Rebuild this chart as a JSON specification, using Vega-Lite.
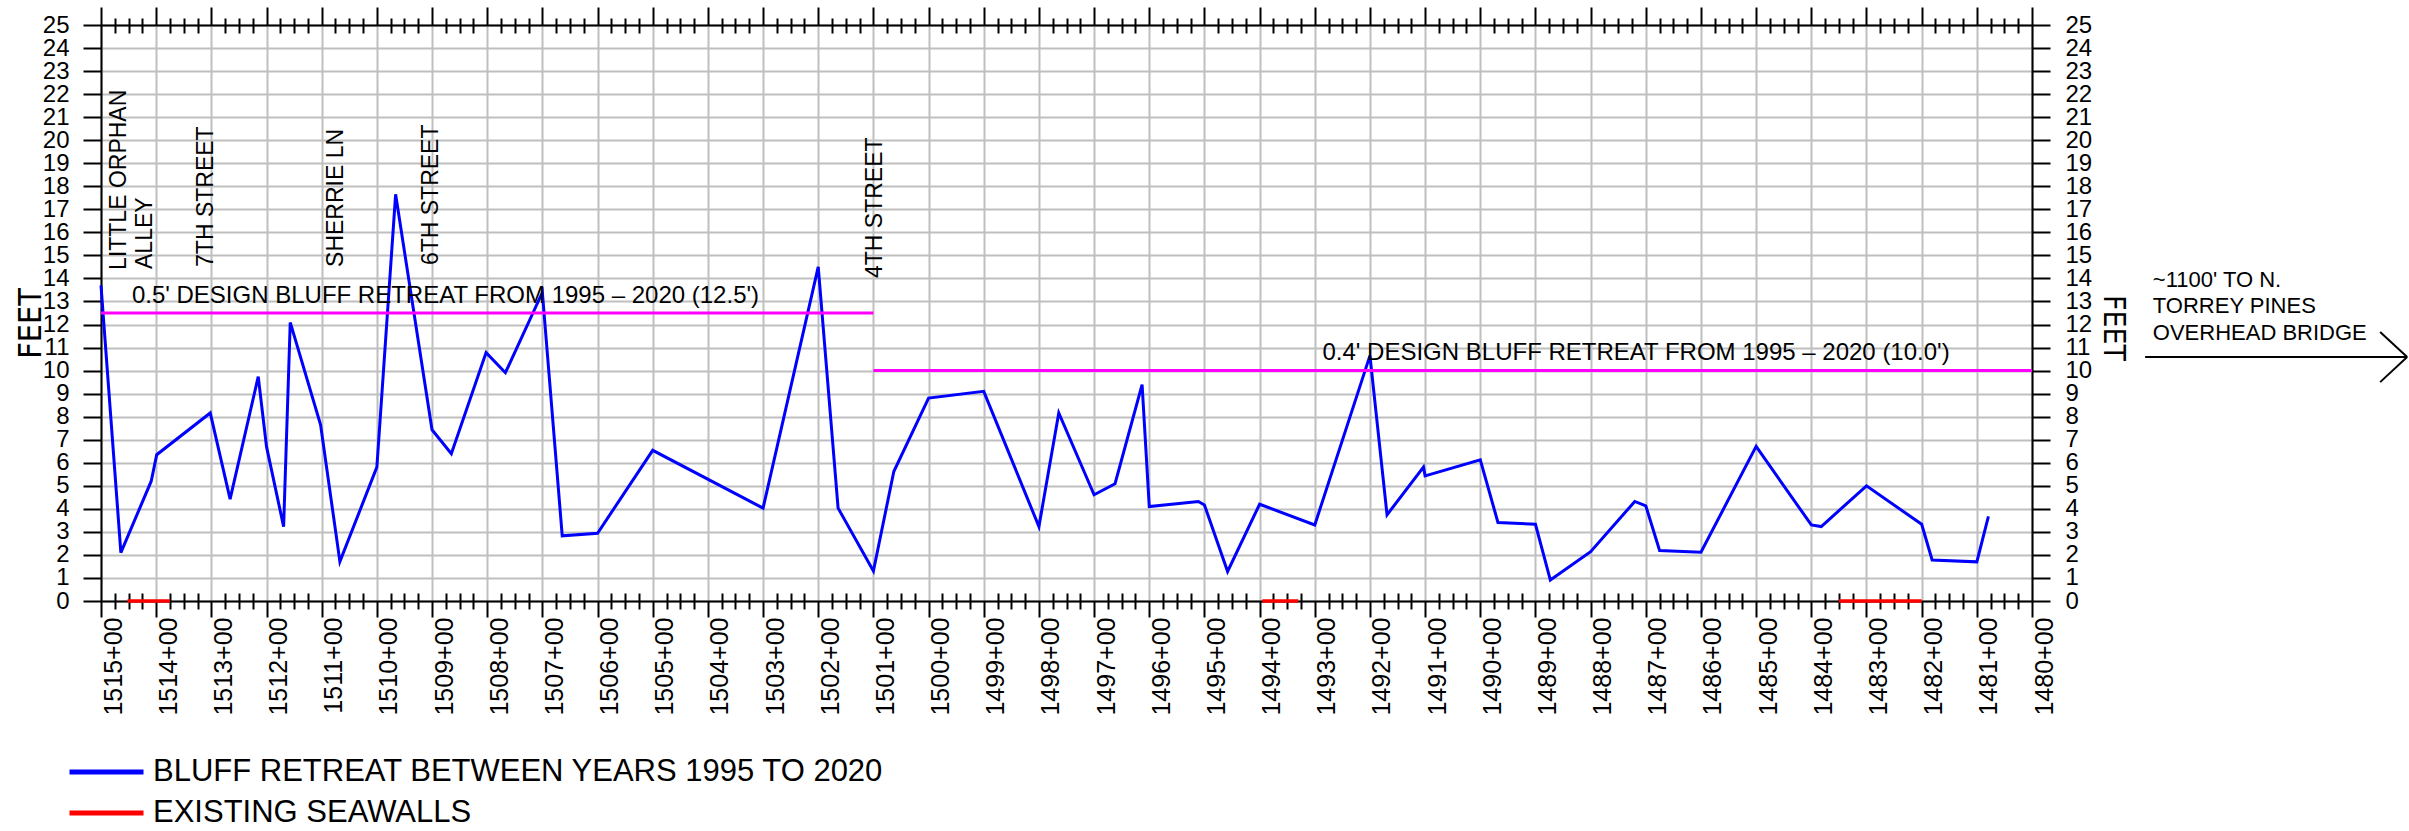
{
  "$schema": "https://vega.github.io/schema/vega-lite/v6.json",
  "width": 1931,
  "height": 576,
  "autosize": {"type": "none"},
  "padding": {"left": 101, "top": 25, "right": 377, "bottom": 230},
  "background": "white",
  "datasets": {
    "retreat": [
      {"station": 1515.0, "feet": 13.7},
      {"station": 1514.64, "feet": 2.1},
      {"station": 1514.09, "feet": 5.2},
      {"station": 1513.99, "feet": 6.35},
      {"station": 1513.02, "feet": 8.16},
      {"station": 1512.66, "feet": 4.42},
      {"station": 1512.15, "feet": 9.74},
      {"station": 1512.0, "feet": 6.7},
      {"station": 1511.69, "feet": 3.23},
      {"station": 1511.57, "feet": 12.09},
      {"station": 1511.02, "feet": 7.65},
      {"station": 1510.67, "feet": 1.71},
      {"station": 1510.0, "feet": 5.81},
      {"station": 1509.66, "feet": 17.65},
      {"station": 1509.0, "feet": 7.43},
      {"station": 1508.65, "feet": 6.39},
      {"station": 1508.02, "feet": 10.78},
      {"station": 1507.67, "feet": 9.91},
      {"station": 1507.0, "feet": 13.39},
      {"station": 1506.64, "feet": 2.83},
      {"station": 1506.0, "feet": 2.94},
      {"station": 1505.0, "feet": 6.54},
      {"station": 1503.0, "feet": 4.03},
      {"station": 1502.0, "feet": 14.5},
      {"station": 1501.64, "feet": 4.03},
      {"station": 1501.0, "feet": 1.3},
      {"station": 1500.63, "feet": 5.62},
      {"station": 1500.0, "feet": 8.81},
      {"station": 1499.0, "feet": 9.1},
      {"station": 1498.0, "feet": 3.23},
      {"station": 1497.64, "feet": 8.16},
      {"station": 1497.0, "feet": 4.61},
      {"station": 1496.62, "feet": 5.09},
      {"station": 1496.13, "feet": 9.39},
      {"station": 1496.0, "feet": 4.1},
      {"station": 1495.11, "feet": 4.32},
      {"station": 1495.0, "feet": 4.17},
      {"station": 1494.58, "feet": 1.28},
      {"station": 1494.0, "feet": 4.2},
      {"station": 1493.0, "feet": 3.3},
      {"station": 1492.0, "feet": 10.65},
      {"station": 1491.69, "feet": 3.74},
      {"station": 1491.03, "feet": 5.81},
      {"station": 1491.0, "feet": 5.43},
      {"station": 1490.0, "feet": 6.13},
      {"station": 1489.68, "feet": 3.41},
      {"station": 1489.0, "feet": 3.33},
      {"station": 1488.73, "feet": 0.91},
      {"station": 1488.0, "feet": 2.14},
      {"station": 1487.2, "feet": 4.32},
      {"station": 1487.0, "feet": 4.13},
      {"station": 1486.75, "feet": 2.19},
      {"station": 1486.0, "feet": 2.12},
      {"station": 1485.0, "feet": 6.71},
      {"station": 1484.0, "feet": 3.3},
      {"station": 1483.82, "feet": 3.23},
      {"station": 1483.0, "feet": 5.0},
      {"station": 1482.0, "feet": 3.33},
      {"station": 1481.81, "feet": 1.78},
      {"station": 1481.0, "feet": 1.7},
      {"station": 1480.79, "feet": 3.67}
    ],
    "design": [
      {"start": 1515, "end": 1501, "feet": 12.5},
      {"start": 1501, "end": 1480, "feet": 10.0}
    ],
    "seawalls": [
      {"start": 1514.52, "end": 1513.75},
      {"start": 1493.95, "end": 1493.3},
      {"start": 1483.5, "end": 1482.0}
    ],
    "streets": [
      {"station": 1514.55, "feet": 14.37, "label": "LITTLE ORPHAN"},
      {"station": 1514.08, "feet": 14.41, "label": "ALLEY"},
      {"station": 1512.97, "feet": 14.5, "label": "7TH STREET"},
      {"station": 1510.61, "feet": 14.5, "label": "SHERRIE LN"},
      {"station": 1508.9, "feet": 14.58, "label": "6TH STREET"},
      {"station": 1500.84, "feet": 14.02, "label": "4TH STREET"}
    ],
    "designText": [
      {"station": 1514.44, "feet": 12.93, "label": "0.5' DESIGN BLUFF RETREAT FROM 1995 – 2020 (12.5')"},
      {"station": 1492.86, "feet": 10.46, "label": "0.4' DESIGN BLUFF RETREAT FROM 1995 – 2020 (10.0')"}
    ],
    "note": [
      {"station": 1477.81, "feet": 13.63, "label": "~1100' TO N."},
      {"station": 1477.81, "feet": 12.5, "label": "TORREY PINES"},
      {"station": 1477.81, "feet": 11.33, "label": "OVERHEAD BRIDGE"}
    ],
    "arrow": [
      {"x1": 1477.95, "y1": 10.59, "x2": 1473.2, "y2": 10.59},
      {"x1": 1473.69, "y1": 11.68, "x2": 1473.2, "y2": 10.59},
      {"x1": 1473.69, "y1": 9.5, "x2": 1473.2, "y2": 10.59}
    ]
  },
  "layer": [
    {
      "data": {"name": "retreat"},
      "mark": {"type": "line", "strokeWidth": 3, "clip": false},
      "encoding": {
        "x": {
          "field": "station", "type": "quantitative",
          "scale": {"domain": [1480, 1515], "reverse": true, "nice": false, "zero": false},
          "axis": {
            "orient": "bottom",
            "values": [1480,1481,1482,1483,1484,1485,1486,1487,1488,1489,1490,1491,1492,1493,1494,1495,1496,1497,1498,1499,1500,1501,1502,1503,1504,1505,1506,1507,1508,1509,1510,1511,1512,1513,1514,1515],
            "grid": true, "gridColor": "#bfbfbf", "gridWidth": 2,
            "tickSize": 16, "domain": true,
            "labelAngle": 270, "labelAlign": "right", "labelBaseline": "top",
            "labelFontSize": 25, "labelPadding": 0, "labelFlush": false, "labelOverlap": false,
            "labelExpr": "datum.value + '+00'",
            "title": null
          }
        },
        "y": {
          "field": "feet", "type": "quantitative",
          "scale": {"domain": [0, 25], "nice": false, "zero": false},
          "axis": {
            "orient": "left",
            "values": [0,1,2,3,4,5,6,7,8,9,10,11,12,13,14,15,16,17,18,19,20,21,22,23,24,25],
            "grid": true, "gridColor": "#bfbfbf", "gridWidth": 2,
            "tickSize": 18, "domain": true,
            "labelFontSize": 24, "labelPadding": 14, "labelFlush": false, "labelOverlap": false,
            "title": "FEET", "titleFont": "'DejaVu Sans Condensed', 'Liberation Sans'", "titleFontSize": 32,
            "titleAngle": 270, "titleX": -71, "titleY": 298, "titleAlign": "center", "titleBaseline": "middle"
          }
        },
        "color": {
          "datum": "BLUFF RETREAT BETWEEN YEARS 1995 TO 2020", "type": "nominal",
          "scale": {"domain": ["BLUFF RETREAT BETWEEN YEARS 1995 TO 2020", "EXISTING SEAWALLS"], "range": ["#0000ff", "#ff0000"]},
          "legend": {
            "orient": "none", "legendX": -34, "legendY": 732, "title": null,
            "symbolType": "stroke", "symbolSize": 5476, "symbolStrokeWidth": 5,
            "labelFontSize": 31, "labelFont": "Liberation Sans", "labelColor": "black",
            "labelOffset": 7, "labelLimit": 2000, "clipHeight": 30, "rowPadding": 10, "padding": 0
          }
        }
      }
    },
    {
      "data": {"name": "design"},
      "mark": {"type": "rule", "color": "#ff00ff", "strokeWidth": 3, "clip": false},
      "encoding": {
        "x": {
          "field": "start", "type": "quantitative",
          "scale": {"domain": [1480, 1515], "reverse": true, "nice": false, "zero": false},
          "axis": {
            "orient": "top",
            "values": [1480,1481,1482,1483,1484,1485,1486,1487,1488,1489,1490,1491,1492,1493,1494,1495,1496,1497,1498,1499,1500,1501,1502,1503,1504,1505,1506,1507,1508,1509,1510,1511,1512,1513,1514,1515],
            "grid": false, "tickSize": 18, "domain": true, "labels": false, "title": null
          }
        },
        "x2": {"field": "end"},
        "y": {
          "field": "feet", "type": "quantitative",
          "scale": {"domain": [0, 25], "nice": false, "zero": false},
          "axis": {
            "orient": "right",
            "values": [0,1,2,3,4,5,6,7,8,9,10,11,12,13,14,15,16,17,18,19,20,21,22,23,24,25],
            "grid": false, "tickSize": 18, "domain": true,
            "labelFontSize": 24, "labelPadding": 15, "labelFlush": false, "labelOverlap": false,
            "title": "FEET", "titleFont": "'DejaVu Sans Condensed', 'Liberation Sans'", "titleFontSize": 30,
            "titleAngle": 90, "titleX": 80.5, "titleY": 302.5, "titleAlign": "center", "titleBaseline": "middle"
          }
        }
      }
    },
    {
      "data": {"name": "seawalls"},
      "mark": {"type": "rule", "strokeWidth": 3.5, "clip": false},
      "encoding": {
        "x": {
          "field": "start", "type": "quantitative",
          "scale": {"domain": [1480, 1515], "reverse": true, "nice": false, "zero": false},
          "axis": {
            "orient": "bottom", "offset": -8,
            "values": [1480.25,1480.5,1480.75,1481.25,1481.5,1481.75,1482.25,1482.5,1482.75,1483.25,1483.5,1483.75,1484.25,1484.5,1484.75,1485.25,1485.5,1485.75,1486.25,1486.5,1486.75,1487.25,1487.5,1487.75,1488.25,1488.5,1488.75,1489.25,1489.5,1489.75,1490.25,1490.5,1490.75,1491.25,1491.5,1491.75,1492.25,1492.5,1492.75,1493.25,1493.5,1493.75,1494.25,1494.5,1494.75,1495.25,1495.5,1495.75,1496.25,1496.5,1496.75,1497.25,1497.5,1497.75,1498.25,1498.5,1498.75,1499.25,1499.5,1499.75,1500.25,1500.5,1500.75,1501.25,1501.5,1501.75,1502.25,1502.5,1502.75,1503.25,1503.5,1503.75,1504.25,1504.5,1504.75,1505.25,1505.5,1505.75,1506.25,1506.5,1506.75,1507.25,1507.5,1507.75,1508.25,1508.5,1508.75,1509.25,1509.5,1509.75,1510.25,1510.5,1510.75,1511.25,1511.5,1511.75,1512.25,1512.5,1512.75,1513.25,1513.5,1513.75,1514.25,1514.5,1514.75],
            "grid": false, "tickSize": 16, "domain": false, "labels": false, "title": null
          }
        },
        "x2": {"field": "end"},
        "y": {"datum": 0, "type": "quantitative", "scale": {"domain": [0, 25], "nice": false, "zero": false}, "axis": null},
        "color": {"datum": "EXISTING SEAWALLS", "type": "nominal"}
      }
    },
    {
      "data": {"name": "streets"},
      "mark": {"type": "text", "angle": 270, "align": "left", "baseline": "alphabetic", "font": "Liberation Sans", "fontSize": 23, "color": "black", "clip": false},
      "encoding": {
        "x": {
          "field": "station", "type": "quantitative",
          "scale": {"domain": [1480, 1515], "reverse": true, "nice": false, "zero": false},
          "axis": {
            "orient": "top", "offset": -8,
            "values": [1480.25,1480.5,1480.75,1481.25,1481.5,1481.75,1482.25,1482.5,1482.75,1483.25,1483.5,1483.75,1484.25,1484.5,1484.75,1485.25,1485.5,1485.75,1486.25,1486.5,1486.75,1487.25,1487.5,1487.75,1488.25,1488.5,1488.75,1489.25,1489.5,1489.75,1490.25,1490.5,1490.75,1491.25,1491.5,1491.75,1492.25,1492.5,1492.75,1493.25,1493.5,1493.75,1494.25,1494.5,1494.75,1495.25,1495.5,1495.75,1496.25,1496.5,1496.75,1497.25,1497.5,1497.75,1498.25,1498.5,1498.75,1499.25,1499.5,1499.75,1500.25,1500.5,1500.75,1501.25,1501.5,1501.75,1502.25,1502.5,1502.75,1503.25,1503.5,1503.75,1504.25,1504.5,1504.75,1505.25,1505.5,1505.75,1506.25,1506.5,1506.75,1507.25,1507.5,1507.75,1508.25,1508.5,1508.75,1509.25,1509.5,1509.75,1510.25,1510.5,1510.75,1511.25,1511.5,1511.75,1512.25,1512.5,1512.75,1513.25,1513.5,1513.75,1514.25,1514.5,1514.75],
            "grid": false, "tickSize": 15, "domain": false, "labels": false, "title": null
          }
        },
        "y": {"field": "feet", "type": "quantitative", "scale": {"domain": [0, 25], "nice": false, "zero": false}, "axis": null},
        "text": {"field": "label"}
      }
    },
    {
      "data": {"name": "designText"},
      "mark": {"type": "text", "align": "left", "baseline": "alphabetic", "font": "Liberation Sans", "fontSize": 24, "color": "black", "clip": false},
      "encoding": {
        "x": {"field": "station", "type": "quantitative", "scale": {"domain": [1480, 1515], "reverse": true, "nice": false, "zero": false}, "axis": null},
        "y": {"field": "feet", "type": "quantitative", "scale": {"domain": [0, 25], "nice": false, "zero": false}, "axis": null},
        "text": {"field": "label"}
      }
    },
    {
      "data": {"name": "note"},
      "mark": {"type": "text", "align": "left", "baseline": "alphabetic", "font": "Liberation Sans", "fontSize": 22, "color": "black", "clip": false},
      "encoding": {
        "x": {"field": "station", "type": "quantitative", "scale": {"domain": [1480, 1515], "reverse": true, "nice": false, "zero": false}, "axis": null},
        "y": {"field": "feet", "type": "quantitative", "scale": {"domain": [0, 25], "nice": false, "zero": false}, "axis": null},
        "text": {"field": "label"}
      }
    },
    {
      "data": {"name": "arrow"},
      "mark": {"type": "rule", "color": "black", "strokeWidth": 2, "clip": false},
      "encoding": {
        "x": {"field": "x1", "type": "quantitative", "scale": {"domain": [1480, 1515], "reverse": true, "nice": false, "zero": false}, "axis": null},
        "x2": {"field": "x2"},
        "y": {"field": "y1", "type": "quantitative", "scale": {"domain": [0, 25], "nice": false, "zero": false}, "axis": null},
        "y2": {"field": "y2"}
      }
    }
  ],
  "resolve": {"axis": {"x": "independent", "y": "independent"}},
  "config": {
    "view": {"stroke": null},
    "axis": {
      "domainColor": "black", "domainWidth": 2,
      "tickColor": "black", "tickWidth": 2,
      "labelColor": "black", "titleColor": "black",
      "labelFont": "Liberation Sans", "titleFontWeight": "normal"
    },
    "legend": {"padding": 0}
  }
}
